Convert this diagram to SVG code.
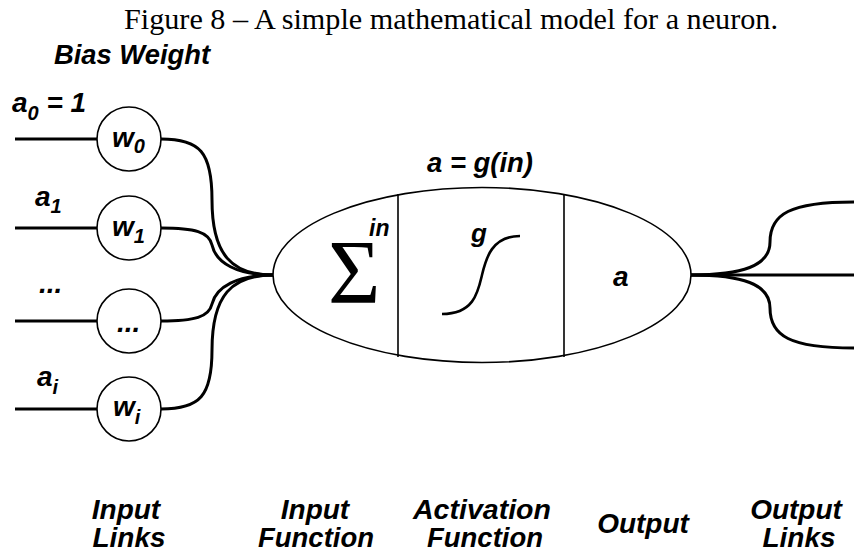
<svg xmlns="http://www.w3.org/2000/svg" width="854" height="555" viewBox="0 0 854 555">
<style>
.lbl{font-family:"Liberation Sans",Arial,sans-serif;font-weight:bold;font-style:italic;font-size:28px;fill:#000}
.cap{font-family:"Liberation Sans",Arial,sans-serif;font-weight:bold;font-style:italic;font-size:28px;fill:#000;text-anchor:middle}
.title{font-family:"Liberation Serif","Times New Roman",serif;font-size:30px;fill:#000}
.node{fill:#fff;stroke:#000;stroke-width:1.6}
.thin{fill:none;stroke:#000;stroke-width:1.6}
.wire{fill:none;stroke:#000;stroke-width:3}
</style>
<rect width="854" height="555" fill="#fff"/>
<text class="title" x="124" y="29" textLength="654" lengthAdjust="spacingAndGlyphs">Figure 8 – A simple mathematical model for a neuron.</text>
<text class="lbl" x="54" y="64" textLength="156" lengthAdjust="spacingAndGlyphs">Bias Weight</text>

<g id="connectors">
<line class="wire" x1="15" y1="139" x2="97" y2="139"/>
<line class="wire" x1="15" y1="228" x2="97" y2="228"/>
<line class="wire" x1="15" y1="321" x2="97" y2="321"/>
<line class="wire" x1="15" y1="409" x2="97" y2="409"/>
<path class="wire" d="M161,139 C200,139 212,152 212,200 C212,255 232,275 273,275"/>
<path class="wire" d="M161,228 C195,228 209,232 212,245 C216,263 237,275 273,275"/>
<path class="wire" d="M161,321 C195,321 209,317 212,304 C216,287 237,275 273,275"/>
<path class="wire" d="M161,409 C200,409 212,396 212,350 C212,295 232,275 273,275"/>
<line class="wire" x1="691" y1="275" x2="854" y2="275"/>
<path class="wire" d="M691,275 C742,275 770,266 770,242 C770,214 790,202 854,202"/>
<path class="wire" d="M691,275 C742,275 770,284 770,308 C770,336 790,348 854,348"/>
</g>

<g id="in0">
<text class="lbl" x="12" y="112">a<tspan font-size="20" dy="8">0</tspan><tspan dy="-8"> = 1</tspan></text>
</g>
<g id="in1">
<text class="lbl" x="35" y="206">a<tspan font-size="20" dy="7">1</tspan></text>
</g>
<g id="in2">
<text class="lbl" x="39" y="293">...</text>
</g>
<g id="in3">
<text class="lbl" x="37" y="386">a<tspan font-size="20" dy="8">i</tspan></text>
</g>

<g id="w0">
<circle class="node" cx="129" cy="139" r="32"/>
<text class="lbl" x="112" y="147">w<tspan font-size="20" dy="6">0</tspan></text>
</g>
<g id="w1">
<circle class="node" cx="129" cy="228" r="32"/>
<text class="lbl" x="112" y="236">w<tspan font-size="20" dy="7">1</tspan></text>
</g>
<g id="wdots">
<circle class="node" cx="129" cy="321" r="32"/>
<text class="lbl" x="117" y="332">...</text>
</g>
<g id="wi">
<circle class="node" cx="129" cy="409" r="32"/>
<text class="lbl" x="113" y="416">w<tspan font-size="20" dy="8">i</tspan></text>
</g>

<g id="neuron">
<ellipse class="thin" cx="482" cy="275" rx="209" ry="87.5"/>
<line class="thin" x1="398" y1="194" x2="398" y2="357"/>
<line class="thin" x1="564" y1="194" x2="564" y2="357"/>
<text x="328" y="303" font-family="'Liberation Serif','Times New Roman',serif" font-size="90" fill="#000">Σ</text>
<text class="lbl" x="369" y="236" style="font-size:23px">in</text>
<text class="lbl" x="471" y="242" style="font-size:26px">g</text>
<path d="M442,314 C474,314 478,292 482,275 C486,258 492,236 520,236" fill="none" stroke="#000" stroke-width="2.6"/>
<text class="lbl" x="613" y="286">a</text>
<text class="lbl" x="427" y="172" textLength="106" lengthAdjust="spacingAndGlyphs">a = g(in)</text>
</g>

<g id="captions">
<text class="cap" x="126" y="519">Input</text>
<text class="cap" x="129" y="547">Links</text>
<text class="cap" x="315" y="519">Input</text>
<text class="cap" x="316" y="547" textLength="116" lengthAdjust="spacingAndGlyphs">Function</text>
<text class="cap" x="482" y="519" textLength="138" lengthAdjust="spacingAndGlyphs">Activation</text>
<text class="cap" x="485" y="547" textLength="116" lengthAdjust="spacingAndGlyphs">Function</text>
<text class="cap" x="643" y="533">Output</text>
<text class="cap" x="796" y="519">Output</text>
<text class="cap" x="799" y="547">Links</text>
</g>
</svg>
